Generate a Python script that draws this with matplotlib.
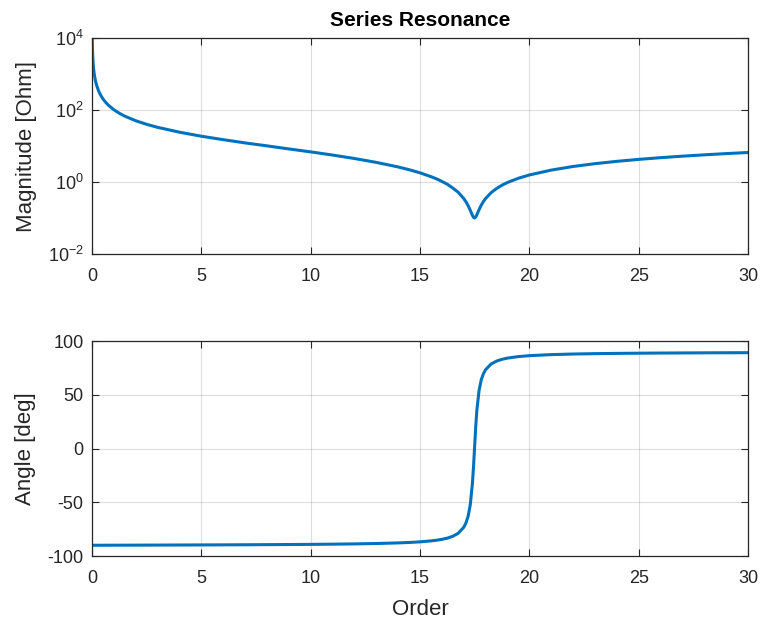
import matplotlib
matplotlib.use("Agg")
import matplotlib.pyplot as plt
from matplotlib.ticker import NullLocator, FixedLocator

plt.rcParams['font.family'] = ['Liberation Sans', 'DejaVu Sans']
plt.rcParams['mathtext.fontset'] = 'custom'
plt.rcParams['mathtext.rm'] = 'Liberation Sans'
plt.rcParams['axes.unicode_minus'] = False

# Harmonic order
order = [0.01, 0.02, 0.03, 0.05, 0.07, 0.1, 0.15, 0.2, 0.3, 0.4, 0.5, 0.6, 0.75,
         1.0, 1.25, 1.5, 2.0, 2.5, 3.0, 4.0, 5.0, 6.0, 7.0, 8.0, 9.0, 10.0,
         11.0, 12.0, 13.0, 14.0, 14.5, 15.0, 15.5, 15.75, 16.0, 16.25, 16.5,
         16.75, 17.0, 17.1, 17.2, 17.3, 17.4, 17.45, 17.5, 17.55, 17.6, 17.7,
         17.8, 17.9, 18.0, 18.25, 18.5, 18.75, 19.0, 19.5, 20.0, 21.0, 22.0,
         23.0, 24.0, 25.0, 26.0, 27.0, 28.0, 29.0, 30.0]

# Impedance magnitude [Ohm]
magnitude = [10200, 5100, 3400, 2040, 1457, 1020, 680, 510, 340, 255, 204, 170,
             136, 101.7, 81.2, 67.5, 50.3, 40.0, 33.0, 24.2, 18.7, 15.0, 12.2,
             10.1, 8.3, 6.87, 5.61, 4.50, 3.51, 2.62, 2.20, 1.80, 1.41, 1.23,
             1.04, 0.866, 0.68, 0.517, 0.348, 0.283, 0.221, 0.163, 0.118, 0.104,
             0.100, 0.107, 0.123, 0.170, 0.226, 0.287, 0.348, 0.504, 0.66,
             0.816, 0.97, 1.273, 1.57, 2.14, 2.70, 3.23, 3.75, 4.25, 4.74, 5.22,
             5.69, 6.15, 6.60]

# Impedance angle [deg]
angle = [-90.0, -90.0, -90.0, -90.0, -90.0, -89.99, -89.99, -89.99, -89.98,
         -89.98, -89.97, -89.97, -89.96, -89.94, -89.93, -89.92, -89.89, -89.86,
         -89.83, -89.76, -89.69, -89.62, -89.53, -89.43, -89.31, -89.17, -88.98,
         -88.73, -88.37, -87.81, -87.40, -86.82, -85.94, -85.34, -84.51, -83.40,
         -81.63, -78.85, -73.28, -69.33, -63.1, -52.2, -31.8, -16.0, 2.3, 20.8,
         35.4, 53.9, 63.8, 69.6, 73.3, 78.6, 81.3, 82.96, 84.1, 85.5, 86.35,
         87.33, 87.88, 88.23, 88.47, 88.65, 88.79, 88.90, 88.99, 89.07, 89.13]

x_ticks = [0, 5, 10, 15, 20, 25, 30]
angle_ticks = [-100, -50, 0, 50, 100]
mag_ticks = [1e-2, 1e0, 1e2, 1e4]

line_color = (0.0, 0.447, 0.741)
dark = (0.15, 0.15, 0.15)

fig = plt.figure(figsize=(7.61, 6.20), dpi=100)
ax1 = fig.add_axes([0.1209, 0.5903, 0.8620, 0.3484])
ax2 = fig.add_axes([0.1209, 0.1032, 0.8620, 0.3468])


def style(ax):
    ax.set_facecolor('white')
    for s in ax.spines.values():
        s.set_color(dark)
        s.set_linewidth(0.9)
    ax.tick_params(which='both', direction='in', top=True, right=True,
                   colors=dark, labelcolor=dark, labelsize=13, length=5,
                   width=0.8)
    ax.tick_params(axis='x', pad=10)
    ax.tick_params(axis='y', pad=6)
    ax.grid(True, color=(0.15, 0.15, 0.15), alpha=0.15, linewidth=0.8)
    ax.set_axisbelow(True)


ax1.plot(order, magnitude, color=line_color, linewidth=2.2)
ax1.set_yscale('log')
ax1.set_xlim(0, 30)
ax1.set_ylim(1e-2, 1e4)
ax1.yaxis.set_major_locator(FixedLocator(mag_ticks))
ax1.yaxis.set_minor_locator(NullLocator())
ax1.xaxis.set_major_locator(FixedLocator(x_ticks))
ax1.set_ylabel('Magnitude [Ohm]', fontsize=16, color=dark, labelpad=8)
ax1.set_title('Series Resonance', fontsize=15, fontweight='bold', color='black', pad=9)
style(ax1)

ax2.plot(order, angle, color=line_color, linewidth=2.2)
ax2.set_xlim(0, 30)
ax2.set_ylim(-100, 100)
ax2.xaxis.set_major_locator(FixedLocator(x_ticks))
ax2.yaxis.set_major_locator(FixedLocator(angle_ticks))
ax2.set_ylabel('Angle [deg]', fontsize=16, color=dark, labelpad=8)
ax2.set_xlabel('Order', fontsize=16, color=dark, labelpad=9)
style(ax2)

fig.savefig('out.png', dpi=100, facecolor='white')
